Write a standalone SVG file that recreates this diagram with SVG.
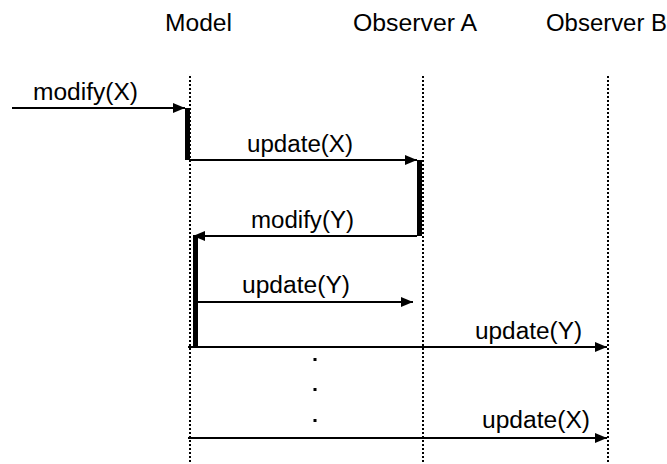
<svg xmlns="http://www.w3.org/2000/svg" width="667" height="464" viewBox="0 0 667 464">
<style>
text{font-family:"Liberation Sans",Arial,sans-serif;font-size:23px;fill:#000}
.life{stroke:#000;stroke-width:2;stroke-dasharray:2 2;fill:none}
.msg{stroke:#000;stroke-width:2;fill:none}
.bar{fill:#000}
</style>
<defs>
<marker id="ah" markerWidth="12" markerHeight="10" refX="12" refY="5" orient="auto" markerUnits="userSpaceOnUse">
<path d="M0,0 L12,5 L0,10 Z" fill="#000"/>
</marker>
</defs>
<rect width="667" height="464" fill="#fff"/>
<g id="model">
<text x="165" y="31" textLength="67" lengthAdjust="spacingAndGlyphs">Model</text>
<line class="life" x1="190" y1="76" x2="190" y2="464"/>
<rect class="bar" x="185" y="108" width="5" height="52"/>
<rect class="bar" x="193" y="236" width="5" height="111"/>
</g>
<g id="observerA">
<text x="353" y="31" textLength="124" lengthAdjust="spacingAndGlyphs">Observer A</text>
<line class="life" x1="423" y1="76" x2="423" y2="464"/>
<rect class="bar" x="417" y="160" width="5" height="76"/>
</g>
<g id="observerB">
<text x="546" y="31" textLength="121" lengthAdjust="spacingAndGlyphs">Observer B</text>
<line class="life" x1="608" y1="76" x2="608" y2="464"/>
</g>
<g id="connectors">
<line class="msg" x1="12" y1="108" x2="185" y2="108" marker-end="url(#ah)"/>
<text x="33" y="100" textLength="105" lengthAdjust="spacingAndGlyphs">modify(X)</text>
<line class="msg" x1="190" y1="160" x2="417" y2="160" marker-end="url(#ah)"/>
<text x="247" y="152" textLength="106" lengthAdjust="spacingAndGlyphs">update(X)</text>
<line class="msg" x1="417" y1="236" x2="193" y2="236" marker-end="url(#ah)"/>
<text x="251" y="228" textLength="103" lengthAdjust="spacingAndGlyphs">modify(Y)</text>
<line class="msg" x1="198" y1="302" x2="413" y2="302" marker-end="url(#ah)"/>
<text x="242" y="293" textLength="108" lengthAdjust="spacingAndGlyphs">update(Y)</text>
<line class="msg" x1="188" y1="347" x2="607" y2="347" marker-end="url(#ah)"/>
<text x="475" y="339" textLength="107" lengthAdjust="spacingAndGlyphs">update(Y)</text>
<line class="msg" x1="188" y1="438" x2="607" y2="438" marker-end="url(#ah)"/>
<text x="482" y="428" textLength="108" lengthAdjust="spacingAndGlyphs">update(X)</text>
<rect class="bar" x="313.5" y="358" width="3" height="3"/>
<rect class="bar" x="313.5" y="388" width="3" height="3"/>
<rect class="bar" x="313.5" y="419" width="3" height="3"/>
</g>
</svg>
